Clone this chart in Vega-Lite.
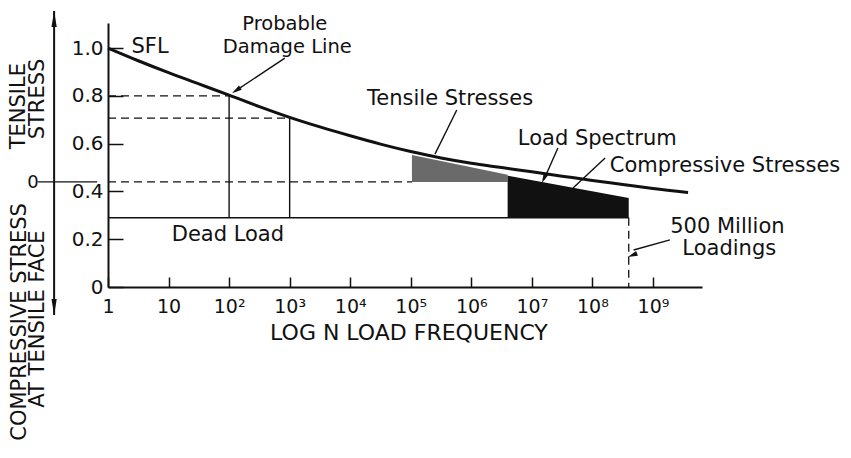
{
  "$schema": "https://vega.github.io/schema/vega-lite/v6.json",
  "width": 594,
  "height": 264,
  "autosize": {"type": "none"},
  "padding": {"left": 108, "top": 23, "right": 149, "bottom": 171},
  "background": "white",
  "config": {"view": {"stroke": null}, "font": "DejaVu Sans"},
  "datasets": {
    "curve": [
      {"x": 0, "y": 1.0}, {"x": 0.5, "y": 0.947}, {"x": 1, "y": 0.897}, {"x": 1.5, "y": 0.85},
      {"x": 2, "y": 0.803}, {"x": 2.5, "y": 0.755}, {"x": 3, "y": 0.71}, {"x": 3.5, "y": 0.67},
      {"x": 4, "y": 0.633}, {"x": 4.5, "y": 0.598}, {"x": 5, "y": 0.567}, {"x": 5.5, "y": 0.54},
      {"x": 6, "y": 0.518}, {"x": 6.5, "y": 0.5}, {"x": 7, "y": 0.482}, {"x": 7.5, "y": 0.464},
      {"x": 8, "y": 0.446}, {"x": 8.5, "y": 0.429}, {"x": 9, "y": 0.412}, {"x": 9.58, "y": 0.395}
    ],
    "spectrum": [
      {"region": "Tensile", "x": 5.02, "y": 0.553, "y2": 0.44},
      {"region": "Tensile", "x": 6.6, "y": 0.47, "y2": 0.44},
      {"region": "Compressive", "x": 6.6, "y": 0.466, "y2": 0.29},
      {"region": "Compressive", "x": 8.6, "y": 0.372, "y2": 0.29}
    ],
    "dashed": [
      {"x": 0, "y": 0.8, "x2": 2, "y2": 0.8},
      {"x": 0, "y": 0.707, "x2": 3, "y2": 0.707},
      {"x": 0, "y": 0.44, "x2": 5.02, "y2": 0.44},
      {"x": 8.6, "y": 0.29, "x2": 8.6, "y2": 0}
    ],
    "solid": [
      {"x": 0, "y": 0.29, "x2": 8.6, "y2": 0.29},
      {"x": 2, "y": 0.8, "x2": 2, "y2": 0.29},
      {"x": 3, "y": 0.707, "x2": 3, "y2": 0.29},
      {"x": 2.92, "y": 0.958, "x2": 2.1, "y2": 0.82},
      {"x": 5.76, "y": 0.741, "x2": 5.4, "y2": 0.556},
      {"x": 7.43, "y": 0.582, "x2": 7.2, "y2": 0.45},
      {"x": 8.21, "y": 0.54, "x2": 7.68, "y2": 0.414},
      {"x": 9.28, "y": 0.197, "x2": 8.68, "y2": 0.155},
      {"x": -1.16, "y": 0.44, "x2": -0.18, "y2": 0.44}
    ],
    "outerAxis": [{"x": -0.89, "y": 1.155, "x2": -0.89, "y2": -0.117}],
    "minor": [{"y": 0.1}, {"y": 0.3}, {"y": 0.5}, {"y": 0.7}, {"y": 0.9}],
    "arrows": [
      {"x": 2.117, "y": 0.823, "angle": 236.5},
      {"x": 7.2, "y": 0.454, "angle": 204.6},
      {"x": 8.66, "y": 0.133, "angle": 248}
    ],
    "outerArrows": [
      {"x": -0.89, "y": 1.122, "angle": 0},
      {"x": -0.89, "y": -0.084, "angle": 180}
    ],
    "labels": [
      {"label": "SFL", "x": 0.694, "y": 0.979},
      {"label": "Tensile Stresses", "x": 5.65, "y": 0.762},
      {"label": "Load Spectrum", "x": 8.08, "y": 0.594},
      {"label": "Compressive Stresses", "x": 10.19, "y": 0.481},
      {"label": "500 Million", "x": 10.23, "y": 0.226},
      {"label": "Loadings", "x": 10.26, "y": 0.134},
      {"label": "Dead Load", "x": 1.98, "y": 0.192}
    ],
    "damageLabels": [
      {"label": "Probable", "x": 2.92, "y": 1.075},
      {"label": "Damage Line", "x": 2.96, "y": 0.979}
    ],
    "sideLabels": [
      {"label": "TENSILE", "x": -1.47, "y": 0.757},
      {"label": "STRESS", "x": -1.156, "y": 0.787},
      {"label": "COMPRESSIVE STRESS", "x": -1.46, "y": -0.146},
      {"label": "AT TENSILE FACE", "x": -1.164, "y": -0.134}
    ],
    "outerZero": [{"label": "0", "x": -1.24, "y": 0.414}],
    "xTitle": [{"label": "LOG N LOAD FREQUENCY", "x": 4.97, "y": -0.222}]
  },
  "encoding": {
    "x": {
      "field": "x", "type": "quantitative",
      "scale": {"domain": [0, 9.81], "nice": false, "zero": false},
      "axis": {
        "values": [0, 1, 2, 3, 4, 5, 6, 7, 8, 9],
        "labelExpr": "['1','10','10²','10³','10⁴','10⁵','10⁶','10⁷','10⁸','10⁹'][datum.value]",
        "tickSize": -10, "tickWidth": 1.5, "tickColor": "#111",
        "domainColor": "#111", "domainWidth": 2,
        "labelFont": "DejaVu Sans", "labelFontSize": 19, "labelColor": "#111",
        "labelPadding": 20, "labelFlush": false, "labelOverlap": false,
        "grid": false, "title": null
      }
    },
    "y": {
      "field": "y", "type": "quantitative",
      "scale": {"domain": [0, 1.105], "nice": false, "zero": false},
      "axis": {
        "values": [0, 0.2, 0.4, 0.6, 0.8, 1.0],
        "labelExpr": "datum.value == 0 ? '0' : format(datum.value, '.1f')",
        "tickSize": -15, "tickWidth": 1.5, "tickColor": "#111",
        "domainColor": "#111", "domainWidth": 2,
        "labelFont": "DejaVu Sans", "labelFontSize": 20, "labelColor": "#111",
        "labelPadding": 20, "labelFlush": false, "labelOverlap": false,
        "grid": false, "title": null
      }
    }
  },
  "layer": [
    {
      "data": {"name": "spectrum"},
      "mark": {"type": "area", "interpolate": "linear"},
      "encoding": {
        "y2": {"field": "y2"},
        "color": {"field": "region", "type": "nominal", "scale": {"domain": ["Tensile", "Compressive"], "range": ["#6a6a6a", "#111111"]}, "legend": null}
      }
    },
    {
      "data": {"name": "dashed"},
      "mark": {"type": "rule", "strokeDash": [8, 5], "strokeWidth": 1.3, "color": "#111"},
      "encoding": {"x2": {"field": "x2"}, "y2": {"field": "y2"}}
    },
    {
      "data": {"name": "solid"},
      "mark": {"type": "rule", "strokeWidth": 1.4, "color": "#111"},
      "encoding": {"x2": {"field": "x2"}, "y2": {"field": "y2"}}
    },
    {
      "data": {"name": "outerAxis"},
      "mark": {"type": "rule", "strokeWidth": 2, "color": "#111"},
      "encoding": {"x2": {"field": "x2"}, "y2": {"field": "y2"}}
    },
    {
      "data": {"name": "minor"},
      "mark": {"type": "rule", "strokeWidth": 1.5, "color": "#111"},
      "encoding": {"x": {"datum": 0}, "x2": {"datum": 0.083}}
    },
    {
      "data": {"name": "curve"},
      "mark": {"type": "line", "interpolate": "monotone", "strokeWidth": 3, "color": "#111"}
    },
    {
      "data": {"name": "arrows"},
      "mark": {"type": "point", "shape": "M0,-1L0.5,1L-0.5,1Z", "filled": true, "size": 100, "color": "#111", "opacity": 1, "strokeWidth": 0},
      "encoding": {"angle": {"field": "angle", "type": "quantitative", "scale": null}}
    },
    {
      "data": {"name": "outerArrows"},
      "mark": {"type": "point", "shape": "M0,-1L0.33,1L-0.33,1Z", "filled": true, "size": 256, "color": "#111", "opacity": 1, "strokeWidth": 0},
      "encoding": {"angle": {"field": "angle", "type": "quantitative", "scale": null}}
    },
    {
      "data": {"name": "labels"},
      "mark": {"type": "text", "font": "DejaVu Sans", "fontSize": 21, "align": "center", "baseline": "alphabetic", "color": "#111"},
      "encoding": {"text": {"field": "label"}}
    },
    {
      "data": {"name": "damageLabels"},
      "mark": {"type": "text", "font": "DejaVu Sans", "fontSize": 19.5, "align": "center", "baseline": "alphabetic", "color": "#111"},
      "encoding": {"text": {"field": "label"}}
    },
    {
      "data": {"name": "sideLabels"},
      "mark": {"type": "text", "font": "DejaVu Sans", "fontSize": 21, "angle": 270, "align": "center", "baseline": "middle", "color": "#111"},
      "encoding": {"text": {"field": "label"}}
    },
    {
      "data": {"name": "outerZero"},
      "mark": {"type": "text", "font": "DejaVu Sans", "fontSize": 18, "align": "center", "baseline": "alphabetic", "color": "#111"},
      "encoding": {"text": {"field": "label"}}
    },
    {
      "data": {"name": "xTitle"},
      "mark": {"type": "text", "font": "DejaVu Sans", "fontSize": 22, "align": "center", "baseline": "alphabetic", "color": "#111"},
      "encoding": {"text": {"field": "label"}}
    }
  ]
}
